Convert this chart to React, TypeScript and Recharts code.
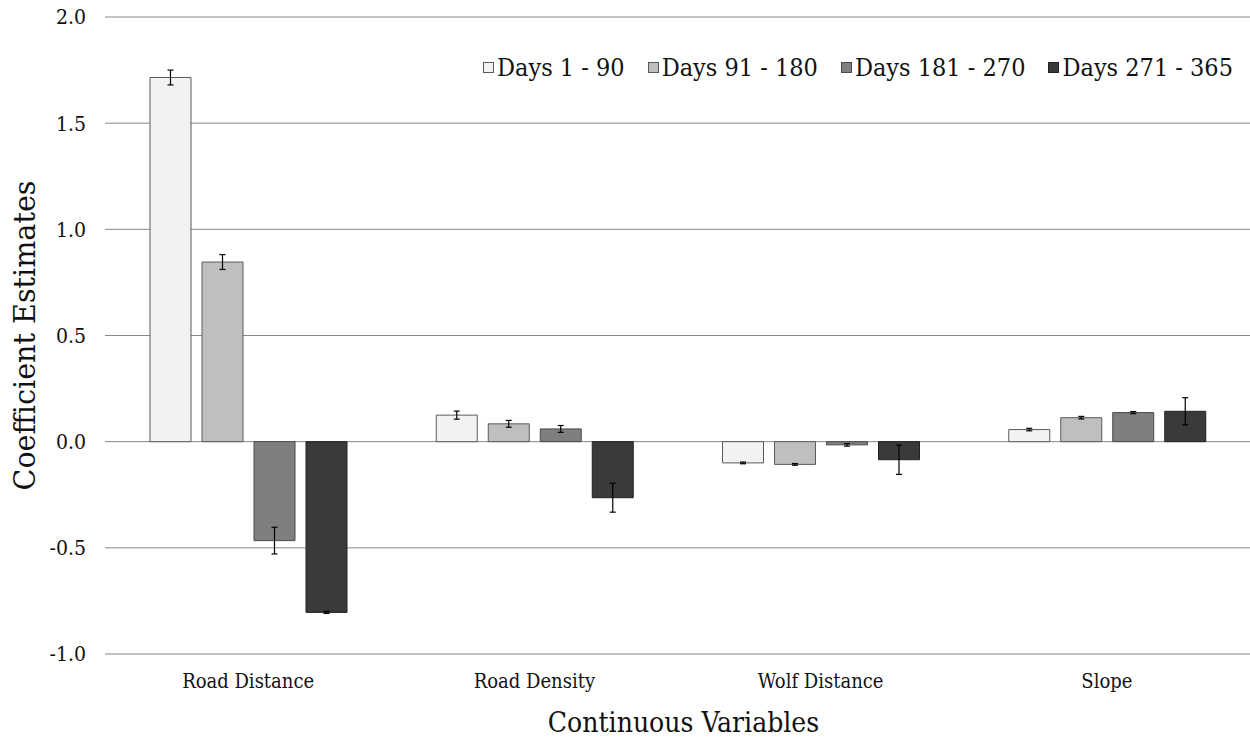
import {
  BarChart,
  Bar,
  XAxis,
  YAxis,
  CartesianGrid,
  ErrorBar,
  Label,
} from "recharts";

const categories = ["Road Distance", "Road Density", "Wolf Distance", "Slope"];

const seriesNames = ["Days 1 - 90", "Days 91 - 180", "Days 181 - 270", "Days 271 - 365"];

const days1to90 = [1.715, 0.125, -0.1, 0.057];
const days91to180 = [0.846, 0.084, -0.107, 0.113];
const days181to270 = [-0.466, 0.06, -0.015, 0.137];
const days271to365 = [-0.804, -0.264, -0.085, 0.143];

const err1to90 = [0.035, 0.019, 0.004, 0.006];
const err91to180 = [0.035, 0.016, 0.004, 0.006];
const err181to270 = [0.063, 0.016, 0.006, 0.005];
const err271to365 = [0.005, 0.068, 0.069, 0.064];

const yTicks = [-1, -0.5, 0, 0.5, 1, 1.5, 2];

const FILLS = ["#f2f2f2", "#bfbfbf", "#7f7f7f", "#3a3a3a"];
const STROKES = ["#5a5a5a", "#5a5a5a", "#4a4a4a", "#222222"];

const values = [days1to90, days91to180, days181to270, days271to365];
const errors = [err1to90, err91to180, err181to270, err271to365];

const data = categories.map((name, i) => {
  const row: Record<string, string | number> = { name };
  values.forEach((v, s) => {
    row[`s${s}`] = v[i];
    row[`e${s}`] = errors[s][i];
  });
  return row;
});

// Times isn't available here, so use the condensed DejaVu serif
const FONT = "'DejaVu Serif', serif";

function LegendBox() {
  return (
    <div
      style={{
        position: "absolute",
        top: 54,
        right: 17,
        display: "flex",
        alignItems: "center",
        gap: 23,
        fontSize: 25,
        lineHeight: "27px",
        color: "#111",
        whiteSpace: "nowrap",
      }}
    >
      {seriesNames.map((n, i) => (
        <div key={n} style={{ display: "flex", alignItems: "center", gap: 3 }}>
          <span
            style={{
              display: "inline-block",
              width: 9,
              height: 9,
              background: FILLS[i],
              border: `1px solid ${STROKES[i]}`,
            }}
          />
          <span>{n}</span>
        </div>
      ))}
    </div>
  );
}

export default function App() {
  return (
    <div
      style={{
        position: "absolute",
        left: 0,
        top: 0,
        width: 1250,
        height: 746,
        background: "#fff",
        fontFamily: FONT,
        fontStretch: "condensed",
      }}
    >
      <BarChart
        width={1250}
        height={746}
        data={data}
        margin={{ top: 17, right: 0, bottom: 0, left: 0 }}
        barSize={41}
        barGap={11}
      >
        <CartesianGrid vertical={false} stroke="#888888" strokeWidth={1} />
        <XAxis
          dataKey="name"
          height={92}
          axisLine={false}
          tickLine={false}
          tickSize={6}
          tickMargin={14}
          tick={{ fontSize: 20, fill: "#111" }}
          interval={0}
        >
          <Label
            content={({ viewBox }: any) => (
              <text
                x={viewBox.x + viewBox.width / 2 + 6}
                y={732}
                textAnchor="middle"
                fontSize={28}
                fill="#111"
              >
                Continuous Variables
              </text>
            )}
          />
        </XAxis>
        <YAxis
          width={105}
          domain={[-1, 2]}
          ticks={yTicks}
          axisLine={false}
          tickLine={false}
          tickSize={6}
          tickMargin={13}
          tickFormatter={(v: number) => v.toFixed(1)}
          tick={{ fontSize: 21, fill: "#111" }}
          interval={0}
        >
          <Label
            content={({ viewBox }: any) => {
              const cx = 35;
              const cy = viewBox.y + viewBox.height / 2;
              return (
                <text
                  x={cx}
                  y={cy}
                  transform={`rotate(-90 ${cx} ${cy})`}
                  textAnchor="middle"
                  fontSize={29}
                  textLength={310}
                  lengthAdjust="spacingAndGlyphs"
                  fill="#111"
                >
                  Coefficient Estimates
                </text>
              );
            }}
          />
        </YAxis>
        {seriesNames.map((n, s) => (
          <Bar
            key={n}
            dataKey={`s${s}`}
            name={n}
            fill={FILLS[s]}
            stroke={STROKES[s]}
            strokeWidth={1}
            isAnimationActive={false}
          >
            <ErrorBar dataKey={`e${s}`} width={3} stroke="#000" strokeWidth={1.2} direction="y" />
          </Bar>
        ))}
      </BarChart>
      <LegendBox />
    </div>
  );
}
